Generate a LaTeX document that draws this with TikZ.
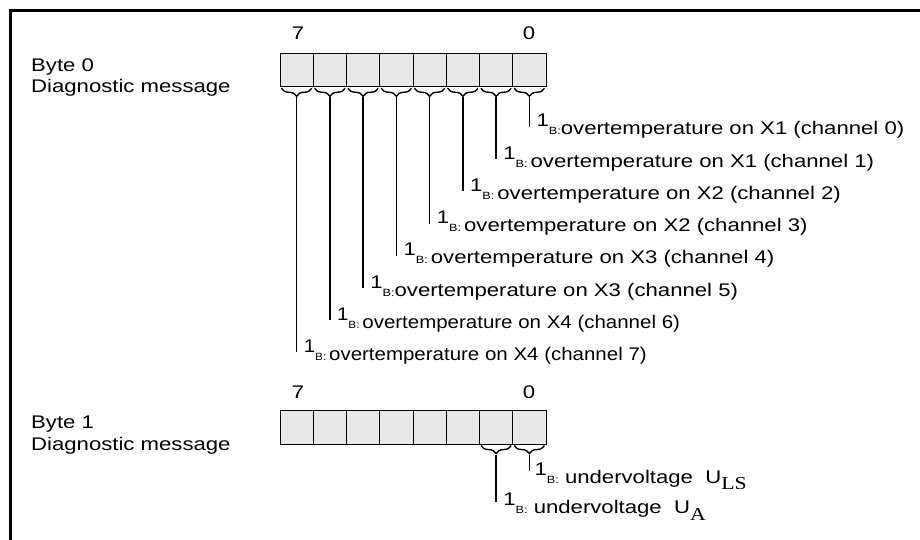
\documentclass[tikz,border=0pt]{standalone}
\usepackage{fontspec}
\setmainfont{Liberation Sans}[FakeStretch=1.21]
\newfontfamily\serifU{Liberation Serif}[FakeStretch=1.19]
\usetikzlibrary{decorations.pathreplacing,calc}
\newcommand\mainsz{\fontsize{18.3}{20.6}\selectfont}
\newcommand\oneB{\raisebox{8pt}{1}{\fontsize{10.5}{12}\selectfont B:}}
\newcommand\narrow[1]{\scalebox{0.925}[1]{#1}}
\tikzset{
  frame/.style={line width=2.6pt},
  cell/.style={draw=black, line width=0.8pt, fill=black!9, minimum width=33.25pt, minimum height=33.5pt, inner sep=0pt, outer sep=0pt},
  bracepath/.style={decorate, decoration={brace,mirror,amplitude=8pt}, line width=1.4pt},
  lead/.style={line width=1.4pt},
  lbl/.style={anchor=base west, inner sep=0pt, font=\mainsz},
  bitnum/.style={anchor=base, inner sep=0pt, font=\mainsz}
}
\begin{document}
\begin{tikzpicture}[x=1pt,y=-1pt]
\useasboundingbox (0,0) rectangle (920,540);
\draw[frame] (10.5,540) -- (10.5,10.5) -- (920,10.5);

% Byte 0
\node[lbl] (b0t) at (31,71.7) {Byte 0};
\node[lbl] (b0m) at (31,92.3) {Diagnostic message};
\node[bitnum] (n07) at (298,40) {7};
\node[bitnum] (n00) at (529,40) {0};

\foreach \i in {0,...,7}{
  \pgfmathsetmacro\cx{296.6+(7-\i)*33.25}
  \pgfmathsetmacro\ey{127+32.2*\i}
  \node[cell] (a\i) at (\cx,70) {};
  \node[cell] (b\i) at (\cx,427.3) {};
  \draw[bracepath] ([xshift=1.5pt,yshift=-1.5pt]a\i.south west) -- ([xshift=-1.5pt,yshift=-1.5pt]a\i.south east);
  \coordinate (ta\i) at ([yshift=-10.5pt]a\i.south);
  \coordinate (ea\i) at (\cx,\ey);
  \draw[lead] (ta\i) -- (ea\i);
}

\node[lbl] (l0) at ($(ea0)+(7,8)$) {\oneB overtemperature on X1 (channel 0)};
\node[lbl] (l1) at ($(ea1)+(7,8)$) {\oneB\,overtemperature on X1 (channel 1)};
\node[lbl] (l2) at ($(ea2)+(7,8)$) {\oneB\,overtemperature on X2 (channel 2)};
\node[lbl] (l3) at ($(ea3)+(7,8)$) {\oneB\,overtemperature on X2 (channel 3)};
\node[lbl] (l4) at ($(ea4)+(7,8)$) {\oneB\,overtemperature on X3 (channel 4)};
\node[lbl] (l5) at ($(ea5)+(7,8)$) {\oneB overtemperature on X3 (channel 5)};
\node[lbl] (l6) at ($(ea6)+(7,8)$) {\narrow{\oneB\,overtemperature on X4 (channel 6)}};
\node[lbl] (l7) at ($(ea7)+(7,8)$) {\narrow{\oneB\,overtemperature on X4 (channel 7)}};

% Byte 1
\node[lbl] (b1t) at (31,428.3) {Byte 1};
\node[lbl] (b1m) at (31,450) {Diagnostic message};
\node[bitnum] (n17) at (298,398) {7};
\node[bitnum] (n10) at (529,398) {0};

\foreach \i in {0,1}{
  \draw[bracepath] ([xshift=1.5pt,yshift=-1.5pt]b\i.south west) -- ([xshift=-1.5pt,yshift=-1.5pt]b\i.south east);
  \coordinate (tb\i) at ([yshift=-10.5pt]b\i.south);
}
\coordinate (eb0) at ($(tb0)+(0,16)$);
\coordinate (eb1) at ($(tb1)+(0,47)$);
\draw[lead] (tb0) -- (eb0);
\draw[lead] (tb1) -- (eb1);
\node[lbl] (u0) at ($(eb0)+(5,13)$) {\oneB\ undervoltage\ \ U\raisebox{-6pt}{\serifU LS}};
\node[lbl] (u1) at ($(eb1)+(7,12)$) {\oneB\ undervoltage\ \ U\raisebox{-7pt}{\serifU A}};
\end{tikzpicture}
\end{document}
